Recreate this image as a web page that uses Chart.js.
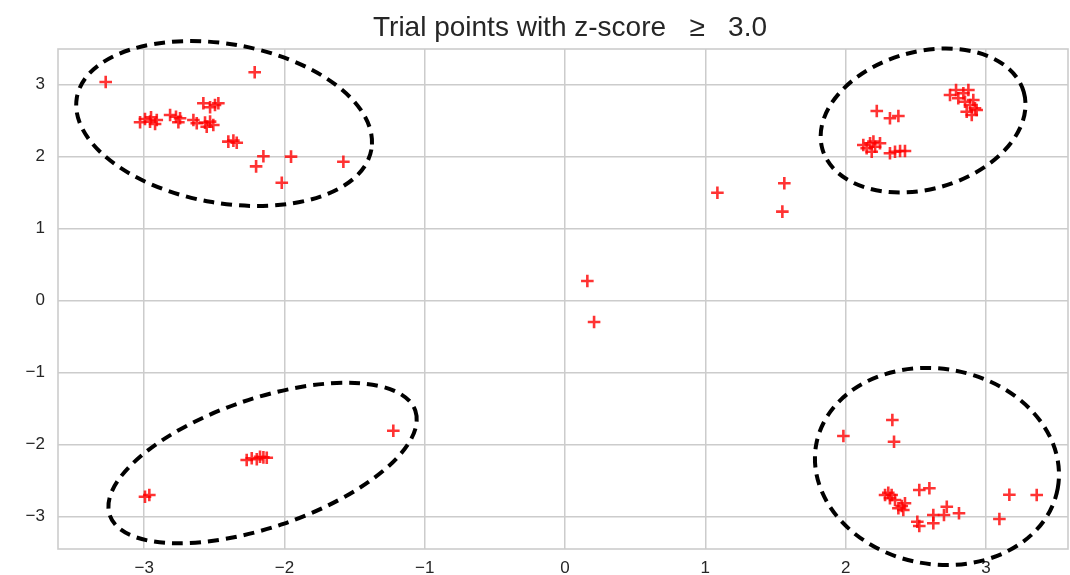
<!DOCTYPE html>
<html>
<head>
<meta charset="utf-8">
<script src="https://cdn.jsdelivr.net/npm/chart.js@4.4.1/dist/chart.umd.min.js"></script>
<style>
html,body{margin:0;padding:0;background:#ffffff;overflow:hidden;}
#wrap{width:1070px;height:575px;}
canvas{display:block;}
</style>
</head>
<body>
<div id="wrap"><canvas id="c" width="1070" height="575"></canvas></div>
<script>
// ---- text & ticks ----
const titleText = "Trial points with z-score   \u2265   3.0";
const xTicks = [-3, -2, -1, 0, 1, 2, 3];
const yTicks = [-3, -2, -1, 0, 1, 2, 3];
const xRange = [-3.614, 3.585];
const yRange = [-3.454, 3.49];

// ---- data ----
const topLeftX = [-3.274, -2.212, -3.029, -2.994, -2.951, -2.958, -2.922, -2.910, -2.815, -2.773, -2.756, -2.744, -2.649, -2.625, -2.566, -2.554, -2.530, -2.507, -2.578, -2.530, -2.495, -2.471, -2.400, -2.364, -2.340, -2.150, -2.202, -1.953, -2.019, -1.580];
const topLeftY = [3.032, 3.167, 2.472, 2.518, 2.542, 2.481, 2.449, 2.504, 2.574, 2.550, 2.472, 2.528, 2.504, 2.458, 2.467, 2.411, 2.481, 2.435, 2.736, 2.681, 2.713, 2.736, 2.203, 2.217, 2.189, 2.000, 1.860, 1.995, 1.633, 1.925];

const centerX = [0.159, 0.207, 1.086, 1.563, 1.549];
const centerY = [0.268, -0.301, 1.494, 1.625, 1.231];

const topRightX = [2.222, 2.316, 2.376, 2.126, 2.150, 2.174, 2.186, 2.198, 2.210, 2.245, 2.316, 2.352, 2.388, 2.423, 2.744, 2.787, 2.803, 2.839, 2.875, 2.851, 2.887, 2.910, 2.922, 2.863, 2.899, 2.934];
const topRightY = [2.629, 2.528, 2.560, 2.157, 2.111, 2.181, 2.064, 2.203, 2.133, 2.181, 2.042, 2.064, 2.074, 2.074, 2.851, 2.921, 2.806, 2.875, 2.921, 2.758, 2.713, 2.782, 2.667, 2.619, 2.574, 2.643];

const bottomLeftX = [-2.994, -2.963, -2.269, -2.233, -2.197, -2.174, -2.150, -2.126, -1.224];
const bottomLeftY = [-2.728, -2.704, -2.218, -2.194, -2.208, -2.172, -2.181, -2.186, -1.811];

const bottomRightX = [2.333, 2.345, 1.984, 2.281, 2.304, 2.316, 2.328, 2.352, 2.376, 2.400, 2.423, 2.411, 2.525, 2.597, 2.511, 2.525, 2.625, 2.625, 2.701, 2.721, 2.808, 3.096, 3.167, 3.362];
const bottomRightY = [-1.663, -1.964, -1.885, -2.704, -2.672, -2.750, -2.704, -2.774, -2.889, -2.857, -2.819, -2.913, -2.635, -2.611, -3.075, -3.135, -2.982, -3.097, -2.982, -2.867, -2.958, -3.037, -2.700, -2.704];

// ellipses: centre (data), semi-axes (data units of each axis), screen rotation (deg)
const ellipseCx = [-2.430, 2.552, -2.156, 2.651];
const ellipseCy = [2.455, 2.497, -2.260, -2.308];
const ellipseRx = [1.066, 0.746, 1.151, 0.875];
const ellipseRy = [1.104, 0.954, 0.893, 1.356];
const ellipseAngle = [10, -15.8, -18.9, 10.3];

// ---- build points ----
function zipPts(xs, ys) { return xs.map((x, i) => ({ x: x, y: ys[i] })); }
const allPoints = [].concat(
  zipPts(topLeftX, topLeftY),
  zipPts(centerX, centerY),
  zipPts(topRightX, topRightY),
  zipPts(bottomLeftX, bottomLeftY),
  zipPts(bottomRightX, bottomRightY)
);

const FONT = '"Liberation Sans", Arial, "DejaVu Sans", sans-serif';
const TEXT = '#262626';
const GRID = '#cccccc';

function fmt(v) { return v < 0 ? '\u2212' + Math.abs(v) : String(v); }
function zeroPad(s) { s.paddingLeft = 0; s.paddingRight = 0; s.paddingTop = 0; s.paddingBottom = 0; }

const framePlugin = {
  id: 'frame',
  beforeDatasetsDraw(chart) {
    const a = chart.chartArea, ctx = chart.ctx;
    ctx.save();
    ctx.strokeStyle = GRID;
    ctx.lineWidth = 1.6;
    ctx.strokeRect(a.left, a.top, a.right - a.left, a.bottom - a.top);
    ctx.restore();
  }
};

const ellipsePlugin = {
  id: 'ellipses',
  afterDatasetsDraw(chart) {
    const xs = chart.scales.x, ys = chart.scales.y, ctx = chart.ctx;
    ctx.save();
    ctx.strokeStyle = '#000000';
    ctx.lineWidth = 4;
    ctx.setLineDash([11, 7]);
    ctx.lineCap = 'butt';
    for (let i = 0; i < ellipseCx.length; i++) {
      const cx = xs.getPixelForValue(ellipseCx[i]);
      const cy = ys.getPixelForValue(ellipseCy[i]);
      const rx = Math.abs(xs.getPixelForValue(ellipseCx[i] + ellipseRx[i]) - cx);
      const ry = Math.abs(ys.getPixelForValue(ellipseCy[i] + ellipseRy[i]) - cy);
      ctx.beginPath();
      ctx.ellipse(cx, cy, rx, ry, ellipseAngle[i] * Math.PI / 180, 0, 2 * Math.PI);
      ctx.stroke();
    }
    ctx.restore();
  }
};

const titlePlugin = {
  id: 'titleText',
  afterDraw(chart) {
    const a = chart.chartArea, ctx = chart.ctx;
    ctx.save();
    ctx.fillStyle = TEXT;
    ctx.font = '28px ' + FONT;
    ctx.textAlign = 'center';
    ctx.textBaseline = 'alphabetic';
    ctx.fillText(titleText, (a.left + a.right) / 2 + 7, 36);
    ctx.restore();
  }
};

new Chart(document.getElementById('c'), {
  type: 'scatter',
  data: {
    datasets: [{
      data: allPoints,
      pointStyle: 'cross',
      pointRadius: 6.3,
      pointHoverRadius: 6.3,
      pointBorderWidth: 2.6,
      borderColor: 'rgba(255,0,0,0.8)',
      backgroundColor: 'rgba(255,0,0,0.8)'
    }]
  },
  options: {
    responsive: false,
    animation: false,
    devicePixelRatio: 1,
    layout: { autoPadding: false, padding: { top: 49, right: 2, left: 0, bottom: 0 } },
    plugins: { legend: { display: false }, tooltip: { enabled: false }, title: { display: false } },
    scales: {
      x: {
        type: 'linear',
        min: xRange[0], max: xRange[1],
        afterBuildTicks: s => { s.ticks = xTicks.map(v => ({ value: v })); },
        afterFit: s => { s.height = 26; zeroPad(s); },
        ticks: { callback: v => fmt(v), font: { family: FONT, size: 17 }, color: TEXT, padding: 9, maxRotation: 0, autoSkip: false },
        grid: { color: GRID, lineWidth: 1.5, drawTicks: false },
        border: { display: false }
      },
      y: {
        type: 'linear',
        min: yRange[0], max: yRange[1],
        afterBuildTicks: s => { s.ticks = yTicks.map(v => ({ value: v })); },
        afterFit: s => { s.width = 58; zeroPad(s); },
        ticks: { callback: v => fmt(v), font: { family: FONT, size: 17 }, color: TEXT, padding: 13, autoSkip: false },
        grid: { color: GRID, lineWidth: 1.5, drawTicks: false },
        border: { display: false }
      }
    }
  },
  plugins: [framePlugin, ellipsePlugin, titlePlugin]
});
</script>
</body>
</html>
